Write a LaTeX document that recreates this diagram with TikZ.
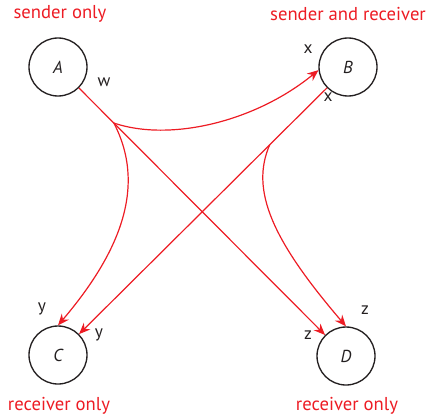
\documentclass[tikz,border=0pt]{standalone}
\usepackage{fontspec}
\setmainfont{PT Sans}
\usetikzlibrary{arrows.meta,calc}
\definecolor{linkred}{RGB}{237,28,36}
\definecolor{ink}{RGB}{35,31,32}
\tikzset{
  host/.style={circle,draw=ink,line width=1pt,minimum size=43.5pt,inner sep=0pt,font=\fontsize{13}{15}\selectfont\itshape,text=ink},
  flow/.style={draw=linkred,line width=0.9pt,-{Stealth[length=8.5pt,width=7pt]}},
  role/.style={text=linkred,font=\fontsize{14}{16}\selectfont},
  port/.style={text=ink,font=\fontsize{13}{15}\selectfont}
}
\begin{document}
\begin{tikzpicture}[x=0.75pt,y=-0.75pt]
\useasboundingbox (0,0) rectangle (427,418);

% hosts
\node[host] (A) at (58,67) {A};
\node[host] (B) at (348,67) {B};
\node[host] (C) at (58,355) {C};
\node[host] (D) at (346,356) {D};

% roles
\node[role] (rA) at (60,14) {sender only};
\node[role] (rB) at (348,14) {sender and receiver};
\node[role] (rC) at (59,406) {receiver only};
\node[role] (rD) at (347,406) {receiver only};

% port labels
\node[port] (w) at (104,82) {w};
\node[port] (x1) at (308,49) {x};
\node[port] (x2) at (328,97) {x};
\node[port] (y1) at (42,309) {y};
\node[port] (y2) at (99,335) {y};
\node[port] (z1) at (365,310) {z};
\node[port] (z2) at (308,335) {z};

% branch points on the two straight links
\coordinate (ja) at ($(A)!0.194!(D)$);
\coordinate (jb) at ($(B)!0.27!(C)$);

% links
\draw[flow] (A) -- (D);
\draw[flow] (B) -- (C);
\draw[flow] (ja) .. controls (170,142) and (255,122) .. (B.186);
\draw[flow] (ja) .. controls (146,185) and (122,250) .. (C.north);
\draw[flow] (jb) .. controls (250,190) and (272,240) .. (D.north);
\end{tikzpicture}
\end{document}
